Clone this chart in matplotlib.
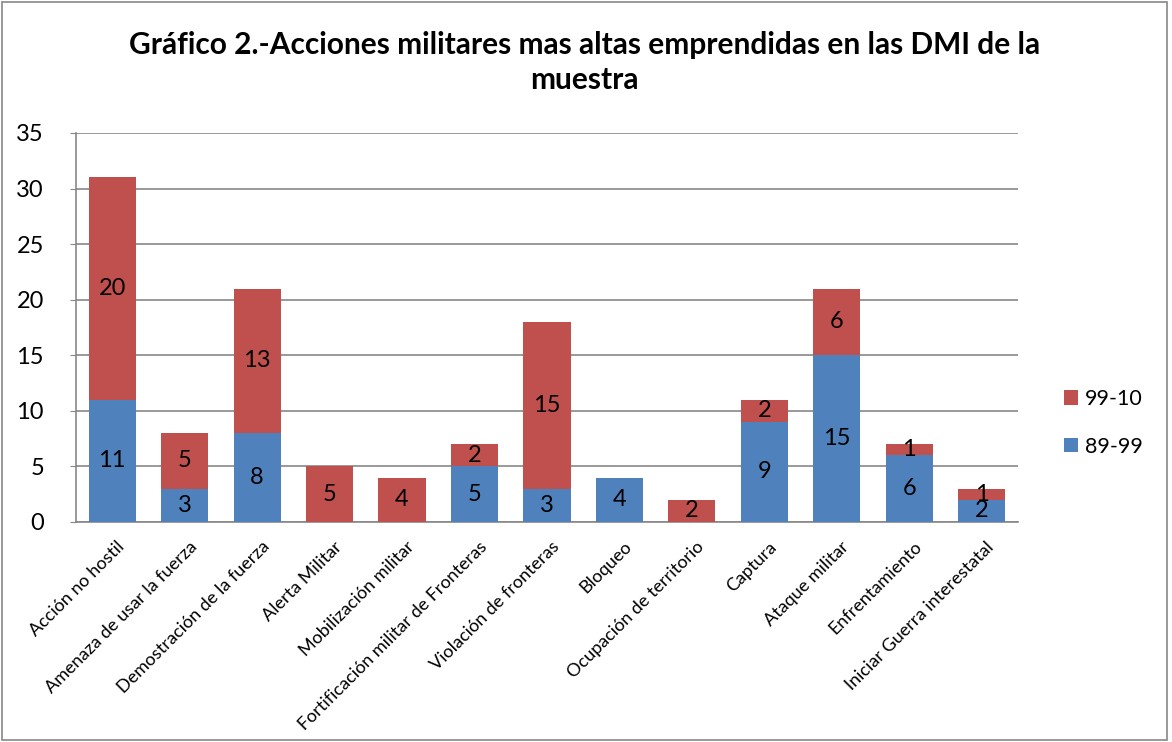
"""
Gráfico 2: acciones militares más altas emprendidas en las DMI de la muestra.
Stacked bars (89-99 / 99-10), Excel-like styling.
"""

import matplotlib
matplotlib.use("Agg")
import matplotlib.pyplot as plt
from matplotlib.patches import Rectangle
from matplotlib.transforms import ScaledTranslation

# --- Data ---
categories = [
    "Acción no hostil",
    "Amenaza de usar la fuerza",
    "Demostración de la fuerza",
    "Alerta Militar",
    "Mobilización militar",
    "Fortificación militar de Fronteras",
    "Violación de fronteras",
    "Bloqueo",
    "Ocupación de territorio",
    "Captura",
    "Ataque militar",
    "Enfrentamiento",
    "Iniciar Guerra interestatal",
]
serie_89_99 = [11, 3, 8, 0, 0, 5, 3, 4, 0, 9, 15, 6, 2]
serie_99_10 = [20, 5, 13, 5, 4, 2, 15, 0, 2, 2, 6, 1, 1]
y_ticks = [0, 5, 10, 15, 20, 25, 30, 35]

BLUE = "#4F81BD"
RED = "#C0504D"
GRID = "#878787"

plt.rcParams["font.family"] = ["Lato", "DejaVu Sans"]


def main():
    fig = plt.figure(figsize=(11.72, 7.42), dpi=100)
    ax = fig.add_axes([0.0648, 0.2965, 0.8038, 0.5243])

    x = list(range(len(categories)))
    width = 0.65
    b1 = ax.bar(x, serie_89_99, width, color=BLUE, label="89-99", zorder=3)
    b2 = ax.bar(x, serie_99_10, width, bottom=serie_89_99, color=RED,
                label="99-10", zorder=3)

    # data labels, centred in each segment, zeros hidden
    for bars, vals in ((b1, serie_89_99), (b2, serie_99_10)):
        ax.bar_label(bars, labels=[str(v) if v else "" for v in vals],
                     label_type="center", fontsize=17, zorder=4)

    ax.set_xlim(-0.5, len(categories) - 0.5)
    ax.set_ylim(0, 35)
    ax.set_yticks(y_ticks)
    ax.tick_params(axis="y", labelsize=17, length=4, color=GRID, pad=19)
    ax.set_xticks(x)
    ax.set_xticklabels(categories, rotation=45, ha="right",
                       rotation_mode="anchor", fontsize=13)
    ax.tick_params(axis="x", length=0, pad=12)
    shift = ScaledTranslation(4 / 100, 0, fig.dpi_scale_trans)
    for lbl in ax.get_xticklabels():
        lbl.set_transform(lbl.get_transform() + shift)

    ax.yaxis.grid(True, color=GRID, linewidth=1.2, zorder=0)
    for side in ("top", "right"):
        ax.spines[side].set_visible(False)
    for side in ("left", "bottom"):
        ax.spines[side].set_color(GRID)
        ax.spines[side].set_linewidth(1.2)

    handles, labels = ax.get_legend_handles_labels()
    fig.legend(handles[::-1], labels[::-1], loc="center left",
               bbox_to_anchor=(0.8916, 0.43), frameon=False, fontsize=15.5,
               handlelength=0.65, handleheight=0.65, labelspacing=1.28,
               handletextpad=0.3)

    fig.suptitle("Gráfico 2.-Acciones militares mas altas emprendidas en las DMI de la\nmuestra",
                 x=0.499, y=0.958, va="top", fontsize=21.5, fontweight="bold",
                 linespacing=1.3)

    # outer chart border
    fig.patches.append(Rectangle((0.002, 0.003), 0.994, 0.994,
                                 transform=fig.transFigure, fill=False,
                                 edgecolor=GRID, linewidth=1.2))

    fig.savefig("out.png", dpi=100)
    plt.close(fig)


if __name__ == "__main__":
    main()
